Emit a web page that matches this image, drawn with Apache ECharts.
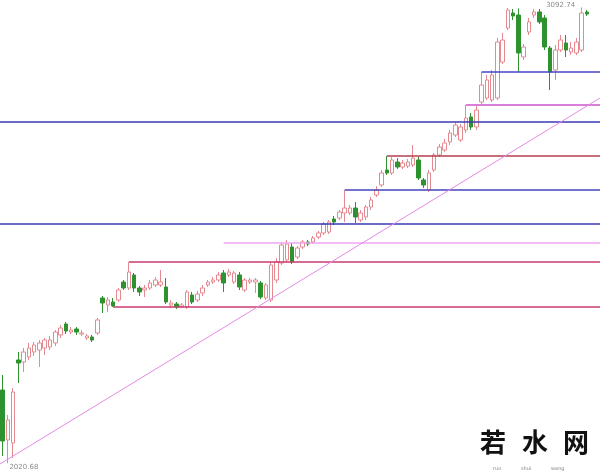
<!DOCTYPE html>
<html>
<head>
<meta charset="utf-8">
<script src="https://cdn.jsdelivr.net/npm/echarts@6/dist/echarts.min.js"></script>
<style>
html,body{margin:0;padding:0;background:#fff;}
#chart{width:600px;height:472px;}
</style>
</head>
<body>
<div id="chart"></div>
<script>
// ---- data ----
const categories = Array.from({length: 114}, (_, i) => 'D' + (i + 1));
// [open, close, lowest, highest]
const candles = [
[2192.8,2072.9,2037.6,2228.1],[2075.3,2122.3,2020.68,2134.0],[2068.2,2188.1,2032.9,2197.5],[2263.4,2256.3,2209.3,2282.2],
[2258.7,2282.2,2235.2,2291.6],[2270.4,2291.6,2263.4,2303.4],[2282.2,2298.7,2272.8,2305.7],[2286.9,2303.4,2246.9,2310.4],
[2291.6,2310.4,2275.1,2315.1],[2294.0,2310.4,2286.9,2319.8],[2303.4,2329.2,2296.3,2333.9],[2322.2,2338.6,2315.1,2345.7],
[2348.1,2331.6,2324.5,2352.8],[2329.2,2333.9,2324.5,2341.0],[2336.3,2329.2,2322.2,2341.0],[2324.5,2326.9,2319.8,2333.9],
[2315.1,2319.8,2310.4,2324.5],[2317.5,2310.4,2305.7,2322.2],[2326.9,2357.5,2322.2,2362.2],[2409.2,2397.4,2373.9,2413.9],
[2392.7,2404.5,2376.3,2411.5],[2399.8,2390.4,2388.0,2409.2],[2404.5,2428.0,2399.8,2432.7],[2446.8,2432.7,2428.0,2451.5],
[2432.7,2470.3,2428.0,2493.9],[2463.3,2432.7,2423.3,2468.0],[2432.7,2423.3,2413.9,2437.4],[2428.0,2432.7,2411.5,2439.8],
[2432.7,2444.5,2428.0,2451.5],[2439.8,2451.5,2435.1,2458.6],[2439.8,2446.8,2435.1,2475.0],[2435.1,2399.8,2395.1,2456.2],
[2392.7,2397.4,2385.7,2404.5],[2395.1,2388.0,2383.3,2399.8],[2388.0,2392.7,2385.7,2397.4],[2388.0,2423.3,2383.3,2428.0],
[2416.2,2399.8,2395.1,2423.3],[2404.5,2418.6,2399.8,2425.7],[2421.0,2432.7,2413.9,2439.8],[2439.8,2446.8,2435.1,2451.5],
[2446.8,2451.5,2442.1,2458.6],[2451.5,2463.3,2446.8,2470.3],[2468.0,2444.5,2423.3,2475.0],[2463.3,2470.3,2458.6,2477.4],
[2446.8,2468.0,2442.1,2472.7],[2463.3,2435.1,2428.0,2470.3],[2428.0,2451.5,2423.3,2456.2],[2446.8,2451.5,2442.1,2456.2],
[2446.8,2451.5,2421.0,2456.2],[2444.5,2411.5,2406.8,2449.2],[2409.2,2439.8,2404.5,2444.5],[2404.5,2486.8,2399.8,2493.9],
[2451.5,2493.9,2444.5,2503.3],[2491.5,2533.8,2486.8,2540.9],[2498.6,2536.2,2493.9,2545.6],[2529.1,2493.9,2489.2,2538.5],
[2505.6,2526.8,2500.9,2531.5],[2529.1,2540.9,2524.4,2545.6],[2540.9,2536.2,2531.5,2545.6],[2540.9,2550.3,2536.2,2555.0],
[2552.6,2562.1,2547.9,2566.8],[2562.1,2583.2,2557.4,2587.9],[2564.4,2587.9,2559.7,2592.6],[2595.0,2587.9,2580.9,2602.0],
[2597.3,2611.4,2592.6,2616.1],[2609.1,2620.8,2587.9,2663.2],[2609.1,2620.8,2604.4,2627.9],[2620.8,2599.7,2585.6,2635.0],
[2592.6,2609.1,2587.9,2616.1],[2599.7,2623.2,2592.6,2627.9],[2623.2,2639.7,2616.1,2646.7],[2651.4,2663.2,2646.7,2672.6],
[2674.9,2703.2,2670.2,2710.2],[2710.2,2703.2,2698.5,2743.1],[2703.2,2733.7,2698.5,2740.8],[2729.0,2717.3,2712.6,2738.4],
[2717.3,2726.7,2712.6,2733.7],[2719.6,2729.0,2714.9,2736.1],[2722.0,2738.4,2717.3,2769.0],[2733.7,2691.4,2686.7,2740.8],
[2686.7,2674.9,2667.9,2691.4],[2663.2,2703.2,2658.5,2710.2],[2710.2,2745.5,2705.5,2750.2],[2745.5,2764.3,2740.8,2771.4],
[2757.2,2773.7,2752.5,2783.1],[2776.1,2797.2,2769.0,2804.3],[2792.5,2816.0,2787.8,2823.1],[2780.8,2811.3,2776.1,2818.4],
[2804.3,2832.5,2797.2,2863.1],[2834.9,2811.3,2804.3,2844.3],[2811.3,2851.3,2804.3,2860.7],[2870.1,2910.1,2865.4,2940.7],
[2879.5,2921.9,2874.8,2933.6],[2874.8,2933.6,2870.1,2945.4],[2879.5,3011.2,2874.8,3020.6],[2964.2,3015.9,2959.5,3032.4],
[3044.2,3086.5,3039.4,3091.2],[3079.4,3072.4,3063.0,3088.8],[3074.7,2985.4,2940.7,3090.0],[2976.0,2999.5,2968.9,3006.5],
[3034.7,3058.3,3027.7,3067.7],[3074.7,3081.8,3067.7,3088.8],[3081.8,3058.3,3053.6,3088.8],[3067.7,2999.5,2992.4,3074.7],
[2997.1,2940.7,2898.3,3001.8],[2945.4,2992.4,2921.9,3004.2],[2992.4,3015.9,2987.7,3027.7],[3008.9,2992.4,2976.0,3027.7],
[2987.7,2997.1,2980.7,3011.2],[2985.4,3011.2,2980.7,3020.6],[2992.4,3079.4,2987.7,3092.74],[3081.8,3077.1,3072.4,3086.5]
];
// horizontal support / resistance levels (price) and the candle index where each starts
const levelValues = [2823.1, 2583.2, 2940.7, 2863.1, 2743.1, 2663.2, 2538.5, 2493.9, 2388.0];
const levelStarts = [-0.5, -0.5, 91, 88, 73, 65, 42, 24, 21];
const levelEnd = 113.5;
// trend line endpoints [candle index, price]
const trendLine = [[-0.5, 2018.8], [113.5, 2879.5]];
const watermark = ['若', '水', '网'];
const watermarkPinyin = ['ruo', 'shui', 'wang'];

// ---- styles ----
const levelColors = ['#3a3ab4', '#3a3ab4', '#4646c8', '#cc55cc', '#b5404f', '#4444bb', '#f0a4f0', '#c93b72', '#c93b72'];
const upColor = '#e48a90';
const downColor = '#2e932e';

const levelSeries = levelValues.map((v, i) => ({
  type: 'line',
  xAxisIndex: 1,
  yAxisIndex: 0,
  data: [[levelStarts[i], v], [levelEnd, v]],
  symbol: 'none',
  silent: true,
  animation: false,
  lineStyle: { color: levelColors[i], width: 1.5 }
}));

const chart = echarts.init(document.getElementById('chart'), null, { renderer: 'canvas' });
const wmLeft = [480, 522, 563];
const pyLeft = [493, 521, 551];
const graphics = [];
watermark.forEach((ch, i) => graphics.push({
  type: 'text', left: wmLeft[i], top: 429, z: 100,
  style: { text: ch, font: 'bold 26px "Noto Sans CJK SC"', fill: '#111' }
}));
watermarkPinyin.forEach((t, i) => graphics.push({
  type: 'text', left: pyLeft[i], top: 466, z: 100,
  style: { text: t, font: '5px "DejaVu Sans"', fill: '#888' }
}));

chart.setOption({
  animation: false,
  backgroundColor: '#ffffff',
  grid: { left: 0, right: 0, top: 0, bottom: 0 },
  xAxis: [
    { type: 'category', data: categories, boundaryGap: true, show: false },
    { type: 'value', min: -0.5, max: 113.5, show: false }
  ],
  yAxis: [
    { type: 'value', min: 2000, max: 3110, show: false, splitLine: { show: false } }
  ],
  graphic: graphics,
  series: [
    {
      type: 'candlestick',
      xAxisIndex: 0,
      yAxisIndex: 0,
      data: candles,
      barWidth: 4,
      itemStyle: {
        color: '#ffffff',
        color0: downColor,
        borderColor: upColor,
        borderColor0: downColor,
        borderWidth: 1
      },
      markPoint: {
        symbol: 'rect',
        symbolSize: 1,
        silent: true,
        itemStyle: { color: 'rgba(0,0,0,0)' },
        label: { show: true, color: '#8a8a8a', fontSize: 7, fontFamily: 'DejaVu Sans', formatter: p => Number(p.value).toFixed(2) },
        data: [
          { type: 'max', valueDim: 'highest', label: { position: 'left', distance: 6, offset: [0, -2] } },
          { type: 'min', valueDim: 'lowest', label: { position: 'right', distance: 1, offset: [0, 4] } }
        ]
      }
    },
    ...levelSeries,
    {
      type: 'line',
      xAxisIndex: 1,
      yAxisIndex: 0,
      data: trendLine,
      symbol: 'none',
      silent: true,
      lineStyle: { color: '#e48ae4', width: 1 }
    }
  ]
});
</script>
</body>
</html>
